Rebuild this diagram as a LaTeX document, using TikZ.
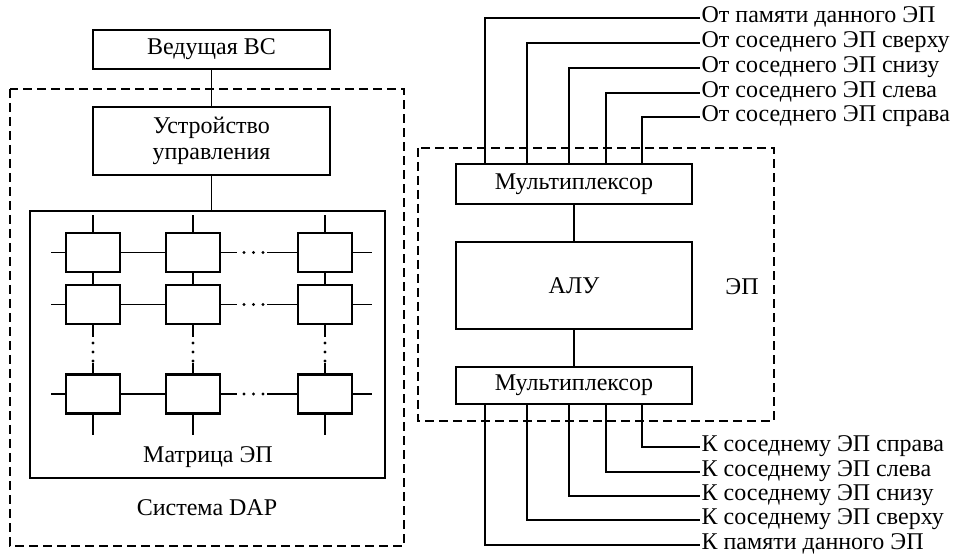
\documentclass[tikz,border=0pt]{standalone}
\usepackage{fontspec}
\setmainfont{Liberation Serif}
\usetikzlibrary{calc}
\begin{document}
\begin{tikzpicture}[x=0.75pt,y=-0.75pt,
  every node/.style={font=\fontsize{18}{20}\selectfont},
  blk/.style={draw, line width=1.6pt, inner sep=0pt, align=center},
  pe/.style={draw, line width=1.6pt, inner sep=0pt, minimum width=40.5pt, minimum height=29.25pt},
  wire/.style={line width=1.4pt},
  frame/.style={line width=1.4pt, dash pattern=on 6.75pt off 3.75pt},
  lbl/.style={anchor=west, inner xsep=1pt, inner ysep=0pt, text height=0.66em, text depth=0pt},
  dotmark/.style={fill=black}
]
\useasboundingbox (0,0) rectangle (957,559);

% ---------------- DAP system ----------------
\node[blk, minimum width=177.75pt, minimum height=29.25pt] (host) at (211.5,49.5) {Ведущая ВС};
\draw[frame] (10,89) rectangle (404,546);
\node[blk, minimum width=177.75pt, minimum height=51pt] (cu) at (211.5,141)
  {Устройство\\[-1pt]управления};
\node[draw, line width=1.6pt, inner sep=0pt, minimum width=266.25pt, minimum height=200.25pt] (mat) at (207.5,344.5) {};
\node (matlbl) at (208,457) {Матрица ЭП};
\node (daplbl) at (207,508) {Система DAP};

\draw[wire] (host.south) -- (cu.north);
\draw[wire] (cu.south) -- (cu.south |- mat.north);

% processing elements
\foreach \r/\y in {1/252.5, 2/304.5, 3/394} {
  \foreach \c/\x in {1/93, 2/193, 3/325} {
    \node[pe] (p\r\c) at (\x,\y) {};
  }
}
\foreach \c in {1,2,3} {
  \draw[wire] (p1\c.north) -- ++(0,-17);
  \draw[wire] (p1\c.south) -- (p2\c.north);
  \draw[wire] (p2\c.south) -- ++(0,12);
  \draw[wire] (p3\c.north) -- ++(0,-10);
  \draw[wire] (p3\c.south) -- ++(0,20);
  \foreach \d in {343,352,361}
    \fill[dotmark] (p2\c.south |- 0,\d) circle[radius=1.3pt];
}
\foreach \r in {1,2,3} {
  \draw[wire] (p\r1.west) -- ++(-14,0);
  \draw[wire] (p\r1.east) -- (p\r2.west);
  \draw[wire] (p\r2.east) -- ++(16,0);
  \draw[wire] (p\r3.west) -- ++(-30,0);
  \draw[wire] (p\r3.east) -- ++(19,0);
  \foreach \d in {244,253.5,263}
    \fill[dotmark] (\d,0 |- p\r2.east) circle[radius=1.3pt];
}

% ---------------- processing element ----------------
\draw[frame] (418,148) rectangle (774,421);
\node (pelbl) at (742,287) {ЭП};
\node[blk, minimum width=177pt, minimum height=30pt] (muxin) at (574,184) {Мультиплексор};
\node[blk, minimum width=177pt, minimum height=65.25pt] (alu) at (574,285.5) {АЛУ};
\node[blk, minimum width=177pt, minimum height=27.75pt] (muxout) at (574,385.5) {Мультиплексор};
\draw[wire] (muxin.south) -- (alu.north);
\draw[wire] (alu.south) -- (muxout.south |- muxout.north);

% inputs
\node[lbl] (in1) at (700,18)  {От памяти данного ЭП};
\node[lbl] (in2) at (700,43)  {От соседнего ЭП сверху};
\node[lbl] (in3) at (700,68)  {От соседнего ЭП снизу};
\node[lbl] (in4) at (700,93)  {От соседнего ЭП слева};
\node[lbl] (in5) at (700,117) {От соседнего ЭП справа};
\foreach \i/\x in {1/485, 2/527, 3/569, 4/606, 5/642}
  \draw[wire] (\x,0 |- muxin.north) |- (in\i.west);

% outputs
\node[lbl] (out1) at (700,447) {К соседнему ЭП справа};
\node[lbl] (out2) at (700,472) {К соседнему ЭП слева};
\node[lbl] (out3) at (700,496) {К соседнему ЭП снизу};
\node[lbl] (out4) at (700,520) {К соседнему ЭП сверху};
\node[lbl] (out5) at (700,545) {К памяти данного ЭП};
\foreach \i/\x in {1/642, 2/606, 3/569, 4/527, 5/485}
  \draw[wire] (\x,0 |- muxout.south) |- (out\i.west);
\end{tikzpicture}
\end{document}
